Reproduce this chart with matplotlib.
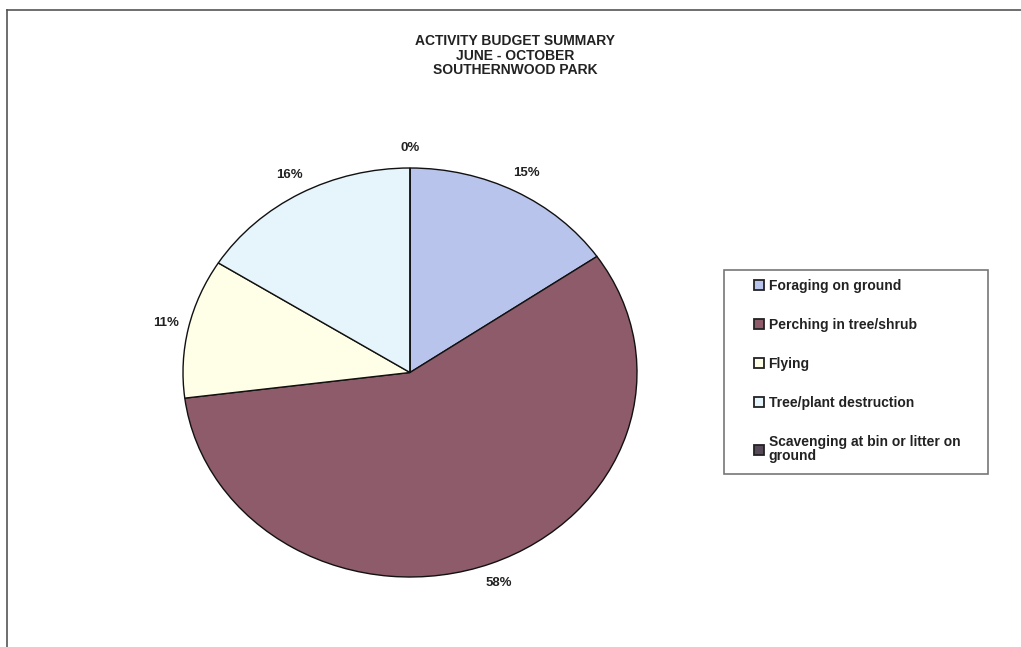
import matplotlib.pyplot as plt
from matplotlib.lines import Line2D
from matplotlib.patches import Rectangle

plt.rcParams["font.family"] = ["Liberation Sans", "DejaVu Sans"]

# data
activities = ["Foraging on ground", "Perching in tree/shrub", "Flying",
              "Tree/plant destruction", "Scavenging at bin or litter on\nground"]
shares = [15.4, 57.6, 11.0, 16.0, 0.0]
colors = ["#b9c4ec", "#8d5b69", "#fffee6", "#e6f5fb", "#574a58"]

W, H = 1021, 647
fig = plt.figure(figsize=(W / 100, H / 100), dpi=100)

# outer frame of the scanned page
fig.add_artist(Line2D([7 / W, 1], [1 - 10 / H, 1 - 10 / H], color="#555555", lw=1.2))
fig.add_artist(Line2D([7 / W, 7 / W], [0, 1 - 10 / H], color="#555555", lw=1.2))

# pie axes (scan is slightly squashed -> ellipse)
ax = fig.add_axes([183 / W, 1 - 577 / H, 454 / W, 409 / H])
wedges, texts, autotexts = ax.pie(
    shares, colors=colors, startangle=90, counterclock=False,
    autopct="%.0f%%", pctdistance=1.1,
    wedgeprops=dict(edgecolor="#111111", linewidth=1.0),
    textprops=dict(fontsize=9.5, fontweight="bold", color="#222222"))
ax.set_aspect("auto")
ax.set_xlim(-1, 1)
ax.set_ylim(-1, 1)
ax.axis("off")

fig.text(515 / W, 1 - 34 / H,
         "ACTIVITY BUDGET SUMMARY\nJUNE - OCTOBER\nSOUTHERNWOOD PARK",
         ha="center", va="top", fontsize=10, fontweight="bold",
         color="#222222", linespacing=1.05)

# legend box
fig.add_artist(Rectangle((724 / W, 1 - 474 / H), 264 / W, 204 / H,
                         transform=fig.transFigure, facecolor="white",
                         edgecolor="#777777", lw=1.2, zorder=1))
leg = fig.legend(wedges, activities,
                 loc="upper left", bbox_to_anchor=(754 / W, 1 - 279 / H),
                 frameon=False, fontsize=10, handlelength=0.75,
                 handleheight=0.75, handletextpad=0.3, labelspacing=1.8,
                 borderpad=0, borderaxespad=0)
leg.set_zorder(2)
for t in leg.get_texts():
    t.set_fontweight("bold")
    t.set_color("#222222")
    t.set_linespacing(1.0)
for h in leg.legend_handles:
    h.set_edgecolor("#222222")
    h.set_linewidth(1.3)

fig.savefig("out.png", dpi=100)
